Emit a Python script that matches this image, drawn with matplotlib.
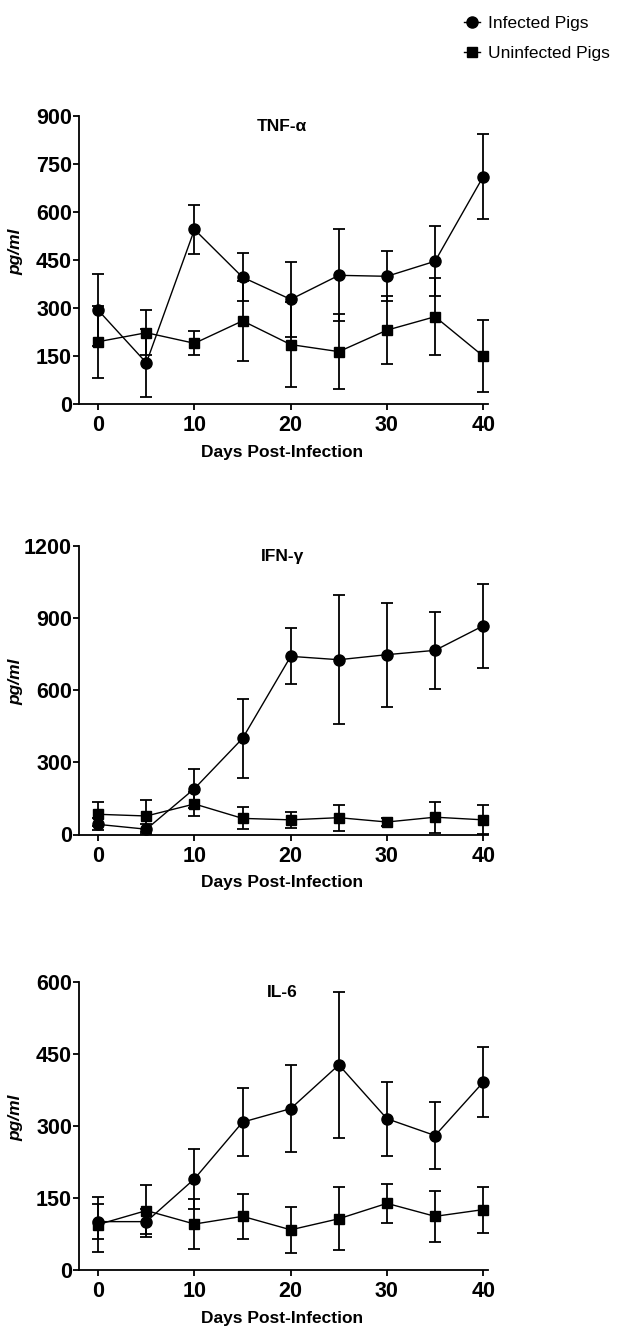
import matplotlib
matplotlib.use('Agg')
import matplotlib.pyplot as plt
from matplotlib.lines import Line2D

plt.rcParams['font.family'] = ['Liberation Sans', 'DejaVu Sans']

days = [0, 5, 10, 15, 20, 25, 30, 35, 40]

# TNF-alpha
tnf_inf = [293, 129, 545, 396, 327, 402, 399, 446, 710]
tnf_inf_err = [112, 106, 75, 75, 118, 143, 78, 110, 133]
tnf_un = [195, 223, 190, 260, 186, 164, 231, 273, 150]
tnf_un_err = [112, 70, 38, 125, 132, 117, 105, 121, 112]

# IFN-gamma
ifn_inf = [42, 22, 191, 400, 741, 727, 748, 766, 868]
ifn_inf_err = [25, 20, 82, 163, 116, 268, 216, 161, 174]
ifn_un = [84, 77, 127, 67, 61, 70, 52, 72, 61]
ifn_un_err = [50, 66, 50, 46, 34, 54, 18, 64, 60]

# IL-6
il6_inf = [101, 101, 190, 308, 336, 427, 315, 280, 391]
il6_inf_err = [36, 26, 62, 70, 91, 152, 77, 70, 73]
il6_un = [95, 124, 96, 112, 84, 107, 139, 112, 126]
il6_un_err = [58, 54, 52, 47, 48, 65, 40, 53, 48]

panels = [
    ('TNF-\u03b1', tnf_inf, tnf_inf_err, tnf_un, tnf_un_err, 900, [0, 150, 300, 450, 600, 750, 900]),
    ('IFN-\u03b3', ifn_inf, ifn_inf_err, ifn_un, ifn_un_err, 1200, [0, 300, 600, 900, 1200]),
    ('IL-6', il6_inf, il6_inf_err, il6_un, il6_un_err, 600, [0, 150, 300, 450, 600]),
]

fig = plt.figure(figsize=(6.24, 13.36), dpi=100)
W, H = 624, 1336
tops = [115.7, 546, 981.7]
ax_h = 288.5
left, right = 79, 488

for (title, inf, inf_err, un, un_err, ymax, yticks), top in zip(panels, tops):
    ax = fig.add_axes([left / W, 1 - (top + ax_h) / H, (right - left) / W, ax_h / H])
    ax.errorbar(days, inf, yerr=inf_err, color='black', marker='o', markersize=8,
                linewidth=1.0, elinewidth=1.3, capsize=4, capthick=1.3,
                clip_on=False, zorder=3)
    ax.errorbar(days, un, yerr=un_err, color='black', marker='s', markersize=7.5,
                linewidth=1.0, elinewidth=1.3, capsize=4, capthick=1.3,
                clip_on=False, zorder=3)
    ax.set_xlim(-2, 40.5)
    ax.set_ylim(0, ymax)
    ax.set_xticks([0, 10, 20, 30, 40])
    ax.set_yticks(yticks)
    for s in ['top', 'right']:
        ax.spines[s].set_visible(False)
    for s in ['left', 'bottom']:
        ax.spines[s].set_linewidth(1.3)
    ax.tick_params(axis='both', width=1.3, length=4, labelsize=15.5)
    ax.tick_params(axis='y', pad=1)
    ax.tick_params(axis='x', pad=4)
    for lab in ax.get_xticklabels() + ax.get_yticklabels():
        lab.set_fontweight('bold')
    ax.text(0.497, 0.963, title, transform=ax.transAxes, ha='center', va='center',
            fontsize=12.5, fontweight='bold')
    ax.set_xlabel('Days Post-Infection', fontsize=12.5, fontweight='bold', va='center')
    ax.xaxis.set_label_coords(0.497, -0.166)
    ax.set_ylabel('pg/ml', fontsize=12.5, fontweight='bold', style='italic', va='center')
    ax.yaxis.set_label_coords(-0.154, 0.53)

handles = [Line2D([], [], color='black', marker='o', markersize=8, linewidth=1.0),
           Line2D([], [], color='black', marker='s', markersize=7.5, linewidth=1.0)]
fig.legend(handles=handles, labels=['Infected Pigs', 'Uninfected Pigs'],
           loc='upper left', bbox_to_anchor=(452 / W, 1 - 4 / H), frameon=False,
           fontsize=12.5, handlelength=0.9, handletextpad=0.5, labelspacing=0.85,
           borderpad=0.2)

fig.savefig('out.png', dpi=100)
